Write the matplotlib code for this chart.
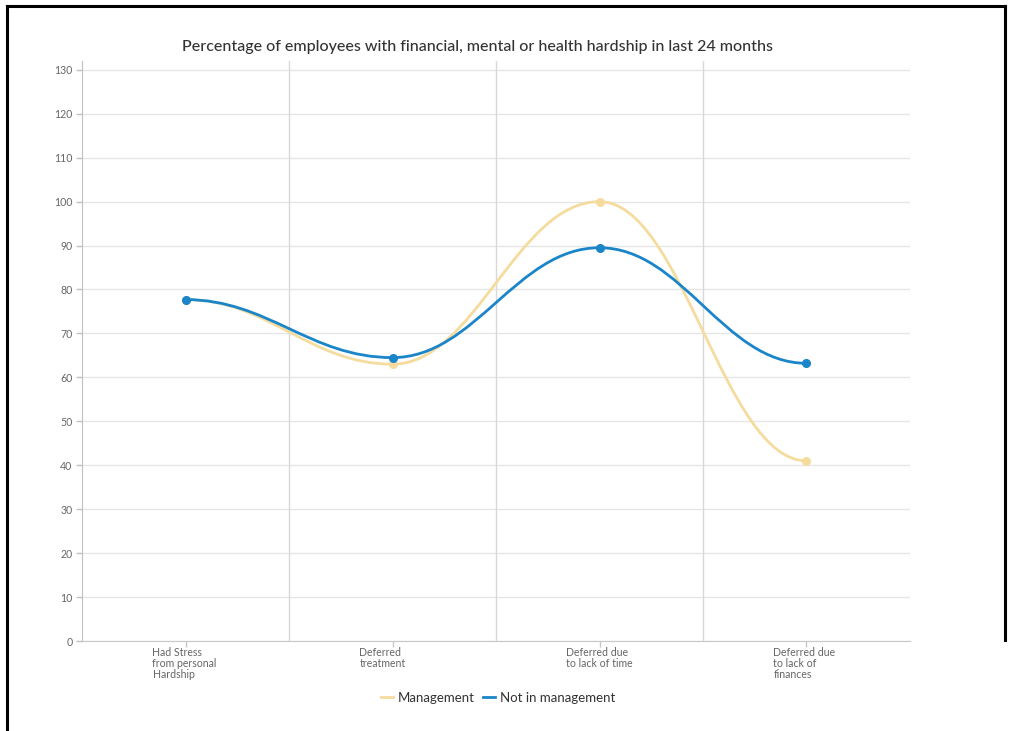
import matplotlib
matplotlib.use("Agg")
import matplotlib.pyplot as plt
from matplotlib.path import Path
from matplotlib.patches import PathPatch
from matplotlib.lines import Line2D
import matplotlib.transforms as mtransforms

plt.rcParams['font.family'] = ['Lato', 'DejaVu Sans']

title = "Percentage of employees with financial, mental or health hardship in last 24 months"
categories = [
    "Had Stress\nfrom personal\nHardship",
    "Deferred\ntreatment",
    "Deferred due\nto lack of time",
    "Deferred due\nto lack of\nfinances",
]
management = [77.7, 63.0, 100.0, 41.0]
not_management = [77.7, 64.5, 89.5, 63.2]
series_names = ["Management", "Not in management"]
series_colors = ["#f5dc9e", "#1a85c8"]
y_ticks = list(range(0, 131, 10))


def spline_path(xs, ys, smoothing=1.5):
    """Smooth bezier path through the points, flat at local extremes and ends."""
    n = len(xs)
    denom = smoothing + 1
    left = [(xs[i], ys[i]) for i in range(n)]
    right = [(xs[i], ys[i]) for i in range(n)]
    # flat tangents at both ends
    right[0] = (xs[0] + (xs[1] - xs[0]) / denom, ys[0])
    left[-1] = (xs[-1] - (xs[-1] - xs[-2]) / denom, ys[-1])
    for i in range(1, n - 1):
        px, py = xs[i], ys[i]
        lx, ly = xs[i - 1], ys[i - 1]
        nx, ny = xs[i + 1], ys[i + 1]
        lcx = (smoothing * px + lx) / denom
        lcy = (smoothing * py + ly) / denom
        rcx = (smoothing * px + nx) / denom
        rcy = (smoothing * py + ny) / denom
        corr = 0.0
        if rcx != lcx:
            corr = (rcy - lcy) * (rcx - px) / (rcx - lcx) + py - rcy
        lcy += corr
        rcy += corr
        if lcy > ly and lcy > py:
            lcy = max(ly, py)
            rcy = 2 * py - lcy
        elif lcy < ly and lcy < py:
            lcy = min(ly, py)
            rcy = 2 * py - lcy
        if rcy > ny and rcy > py:
            rcy = max(ny, py)
            lcy = 2 * py - rcy
        elif rcy < ny and rcy < py:
            rcy = min(ny, py)
            lcy = 2 * py - rcy
        left[i] = (lcx, lcy)
        right[i] = (rcx, rcy)
    verts = [(xs[0], ys[0])]
    codes = [Path.MOVETO]
    for i in range(1, n):
        verts += [right[i - 1], left[i], (xs[i], ys[i])]
        codes += [Path.CURVE4] * 3
    return Path(verts, codes)


fig = plt.figure(figsize=(10.10, 7.31), dpi=100)
ax = fig.add_axes([82 / 1010, 1 - 641 / 731, (910 - 82) / 1010, (641 - 61) / 731])

xs = list(range(len(categories)))
ax.set_xlim(-0.5, len(categories) - 0.5)
ax.set_ylim(0, 132)

# grid
for y in y_ticks:
    ax.axhline(y, color="#e6e6e6", lw=1.0, zorder=0)
for b in range(1, len(categories)):
    ax.axvline(b - 0.5, color="#d8d8d8", lw=1.0, zorder=0)

for vals, color, z in [(management, series_colors[0], 3), (not_management, series_colors[1], 4)]:
    ax.add_patch(PathPatch(spline_path(xs, vals), facecolor="none", edgecolor=color,
                           lw=2.0, zorder=z, capstyle="round"))
    ax.plot(xs, vals, "o", color=color, ms=5.5, zorder=z + 0.5)

for s in ["top", "right"]:
    ax.spines[s].set_visible(False)
ax.spines["left"].set_color("#c0c0c0")
ax.spines["bottom"].set_color("#c8c8c8")

ax.set_yticks(y_ticks)
ax.set_yticklabels([str(v) for v in y_ticks], fontsize=7.6, color="#666666")
ax.tick_params(axis="y", length=4, width=1, color="#c0c0c0", pad=3)
ax.set_xticks(xs)
ax.set_xticklabels([])
ax.tick_params(axis="x", length=4, width=1, color="#c8c8c8")

# category labels, left-aligned blocks under each tick
offset = mtransforms.ScaledTranslation(-33 / 100, -6 / 100, fig.dpi_scale_trans)
trans = mtransforms.blended_transform_factory(ax.transData, ax.transAxes) + offset
for x, lab in zip(xs, categories):
    ax.text(x, 0, lab, transform=trans, ha="left", va="top", fontsize=7.6,
            color="#666666", linespacing=1.0)

fig.text(478 / 1010, 1 - 47 / 731, title, ha="center", va="center",
         fontsize=11.5, color="#333333", fontweight="medium")

handles = [Line2D([0], [0], color=c, lw=2) for c in series_colors]
fig.legend(handles, series_names, loc="center", bbox_to_anchor=(498 / 1010, 1 - 698 / 731),
           ncol=2, frameon=False, fontsize=9.5, handlelength=0.9, handletextpad=0.4,
           columnspacing=0.6, labelcolor="#333333")

# outer frame
frame_kw = dict(color="black", lw=2.2, transform=fig.transFigure, clip_on=False)
fig.add_artist(Line2D([7 / 1010, 7 / 1010], [0, 1 - 6 / 731], **frame_kw))
fig.add_artist(Line2D([7 / 1010, 1005 / 1010], [1 - 6 / 731, 1 - 6 / 731], **frame_kw))
fig.add_artist(Line2D([1005 / 1010, 1005 / 1010], [1 - 6 / 731, 1 - 640 / 731], **frame_kw))

fig.savefig("out.png", dpi=100)
